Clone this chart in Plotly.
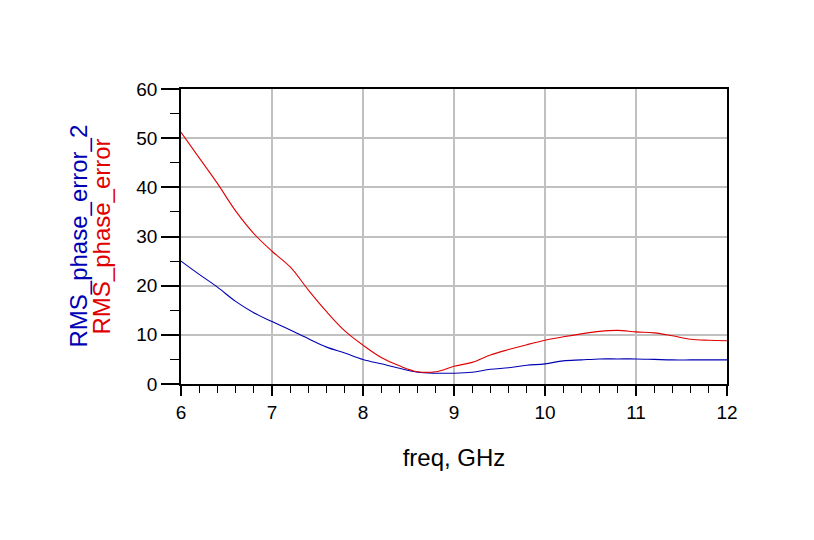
import plotly.graph_objects as go

# values (freq step 0.2 GHz)
freq = [6.0, 6.2, 6.4, 6.6, 6.8, 7.0, 7.2, 7.4, 7.6, 7.8, 8.0, 8.2, 8.4, 8.6, 8.8,
        9.0, 9.2, 9.4, 9.6, 9.8, 10.0, 10.2, 10.4, 10.6, 10.8, 11.0, 11.2, 11.4,
        11.6, 11.8, 12.0]
rms_phase_error = [51.2, 46.0, 40.8, 35.2, 30.6, 27.0, 23.8, 19.1, 14.7, 10.8, 7.9,
                   5.4, 3.7, 2.5, 2.5, 3.6, 4.4, 5.9, 7.0, 8.0, 8.9, 9.6, 10.2,
                   10.7, 10.9, 10.6, 10.4, 9.8, 9.1, 8.9, 8.8]
rms_phase_error_2 = [25.0, 22.3, 19.7, 16.8, 14.5, 12.7, 11.0, 9.2, 7.5, 6.3, 5.0,
                     4.1, 3.2, 2.4, 2.2, 2.2, 2.4, 3.0, 3.3, 3.8, 4.1, 4.7, 4.9,
                     5.1, 5.1, 5.1, 5.0, 4.9, 4.9, 4.9, 4.9]
x_ticks = [6, 7, 8, 9, 10, 11, 12]
y_ticks = [0, 10, 20, 30, 40, 50, 60]

FONT = "Liberation Sans, Arial, sans-serif"
BLUE = "#0000b4"
RED = "#e00000"

data = [
    go.Scatter(x=freq, y=rms_phase_error_2, mode="lines", name="RMS_phase_error_2",
               line=dict(color=BLUE, width=1.1, shape="spline")),
    go.Scatter(x=freq, y=rms_phase_error, mode="lines", name="RMS_phase_error",
               line=dict(color=RED, width=1.1, shape="spline")),
]

axis_common = dict(
    showline=True, linecolor="black", linewidth=1.5, mirror=True,
    showgrid=True, gridcolor="#c0c0c0", gridwidth=1.5,
    zeroline=False, ticks="outside", tickcolor="black", tickwidth=1.5,
    tickfont=dict(family=FONT, size=19, color="black"),
)

# page body adds an 8px offset, margins compensate for it
layout = go.Layout(
    width=814, height=540,
    margin=dict(l=173, r=95, t=81, b=164),
    paper_bgcolor="white", plot_bgcolor="white",
    showlegend=False,
    font=dict(family=FONT, color="black"),
    xaxis=dict(
        axis_common,
        range=[6, 12], tickvals=x_ticks, ticklen=10,
        minor=dict(dtick=0.2, tick0=6, ticklen=7, ticks="outside",
                   tickcolor="black", tickwidth=1.2, showgrid=False),
        title=dict(text="freq, GHz", font=dict(family=FONT, size=24), standoff=28),
    ),
    yaxis=dict(
        axis_common,
        range=[0, 60], tickvals=y_ticks, ticklen=18,
        minor=dict(dtick=5, tick0=0, ticklen=9, ticks="outside",
                   tickcolor="black", tickwidth=1.2, showgrid=False),
    ),
    annotations=[
        dict(text="RMS_phase_error_2", xref="paper", yref="paper",
             x=-0.1886, y=0.5, xanchor="center", yanchor="middle",
             textangle=-90, showarrow=False,
             font=dict(family=FONT, size=24, color=BLUE)),
        dict(text="RMS_phase_error", xref="paper", yref="paper",
             x=-0.1447, y=0.5, xanchor="center", yanchor="middle",
             textangle=-90, showarrow=False,
             font=dict(family=FONT, size=24, color=RED)),
    ],
)

fig = go.Figure(data=data, layout=layout)
fig.write_html("out.html")
